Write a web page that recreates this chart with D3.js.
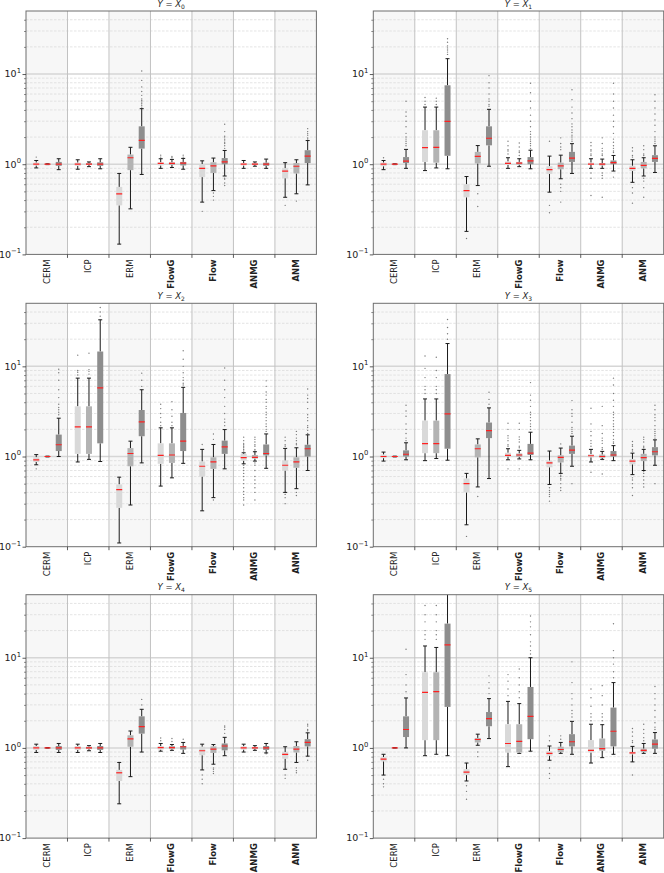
<!DOCTYPE html>
<html>
<head>
<meta charset="utf-8">
<script src="https://cdn.jsdelivr.net/npm/d3@7"></script>
<style>
body { margin: 0; background: #fff; }
text { font-family: "DejaVu Sans", sans-serif; }
</style>
</head>
<body>
<div id="chart"></div>
<script>
const categories = ["CERM", "ICP", "ERM", "FlowG", "Flow", "ANMG", "ANM"];
const boldCats = ["FlowG", "Flow", "ANMG", "ANM"];
const series = ["a", "b", "c"];
const panelIdx = ["0", "1", "2", "3", "4", "5"];
const yTicks = [0.1, 1, 10];
const yTickExp = ["\u22121", "0", "1"];

// [whisker low, q1, median, q3, whisker high] per category, 3 boxes each
const x0Stats = [
  [[0.91,0.97,1.0,1.04,1.1], [0.99,1.0,1.0,1.0,1.01], [0.87,0.96,1.0,1.06,1.15]],
  [[0.88,0.96,1.0,1.04,1.12], [0.94,0.98,1.0,1.03,1.06], [0.89,0.96,1.0,1.05,1.15]],
  [[0.13,0.35,0.47,0.56,0.79], [0.32,0.86,1.18,1.28,1.54], [0.77,1.49,1.84,2.63,4.13]],
  [[0.9,0.97,1.02,1.05,1.15], [0.92,0.98,1.02,1.05,1.13], [0.88,0.97,1.03,1.06,1.16]],
  [[0.38,0.72,0.9,1.0,1.09], [0.51,0.8,0.96,1.05,1.17], [0.74,1.0,1.06,1.17,1.42]],
  [[0.9,0.97,1.0,1.03,1.1], [0.95,0.98,1.0,1.02,1.06], [0.9,0.96,1.0,1.04,1.14]],
  [[0.43,0.7,0.84,0.9,1.04], [0.47,0.79,0.95,1.03,1.12], [0.59,1.03,1.23,1.43,1.83]]
];
const x0Out = [
  [[1.2], [], []],
  [[], [], []],
  [[], [], [4.3,4.5,4.7,4.9,5.1,5.3,5.8,6.4,7.2,8.5,10.8]],
  [[1.2,1.26], [1.18,1.22], [1.2,1.26]],
  [[0.3], [0.48,0.44,0.4], [1.5,1.6,1.7,1.75,1.85,1.9,2.0,2.05,2.3,2.77,0.7,0.68,0.62,0.58]],
  [[], [], []],
  [[0.35], [0.39], [1.9,1.95,2.1,2.2,2.3,2.48]]
];

const x1Stats = [
  [[0.87,0.95,1.0,1.04,1.1], [0.99,1.0,1.0,1.0,1.01], [0.9,1.03,1.08,1.2,1.46]],
  [[0.85,1.06,1.53,2.38,4.3], [0.91,1.04,1.54,2.38,4.3], [0.89,1.24,2.99,7.5,14.8]],
  [[0.18,0.43,0.51,0.6,0.73], [0.58,1.02,1.22,1.37,1.61], [0.95,1.62,1.94,2.63,4.06]],
  [[0.9,0.98,1.02,1.07,1.18], [0.94,0.99,1.03,1.06,1.15], [0.89,1.0,1.09,1.2,1.43]],
  [[0.49,0.78,0.87,0.95,1.23], [0.69,0.88,0.96,1.04,1.26], [0.79,1.06,1.17,1.37,1.69]],
  [[0.9,0.98,1.0,1.04,1.15], [0.9,0.97,1.0,1.03,1.14], [0.84,1.0,1.04,1.1,1.25]],
  [[0.63,0.84,0.9,0.96,1.12], [0.74,0.9,0.97,1.06,1.18], [0.81,1.06,1.16,1.26,1.6]]
];
const x1Out = [
  [[1.18], [], [1.6,1.7,1.8,1.9,2.0,2.2,2.6,3.0,3.4,3.8,5.0]],
  [[4.6,5.0,5.5], [4.6,5.0,5.4], [16.5,17.5,18.5,19.5,20.5,22.5,24.6]],
  [[0.15], [0.47,0.34], [4.4,4.6,5.0,5.3,6.0,7.0,8.0,9.6]],
  [[1.3,1.4,1.45,1.6,1.8], [1.25,1.35,1.4,1.55,1.72], [1.5,1.6,1.7,1.8,1.9,2.0,2.15,2.3,2.6,3.0,3.5,4.2,5.0,6.2,7.9]],
  [[1.8,0.35,0.29], [1.45,1.55,1.7,1.96,0.6,0.55,0.5,0.38], [1.8,1.9,2.0,2.1,2.25,2.4,2.6,2.8,3.2,3.7,4.3,5.2,6.7]],
  [[1.25,1.3,1.4,1.45,1.6,1.74,0.8,0.7,0.45], [1.25,1.3,1.4,1.5,1.7,1.96,0.8,0.75,0.7,0.43], [1.35,1.4,1.5,1.6,1.75,1.9,2.2,2.6,3.0,3.5,4.2,5.0,6.0,7.9,0.72]],
  [[1.2,1.25,1.4,1.52,0.55,0.48,0.37], [1.25,1.3,1.45,1.6,0.7,0.65,0.55,0.43], [1.7,1.8,1.9,2.0,2.3,2.7,3.1,3.6,4.2,5.0,5.9]]
];

const x2Stats = [
  [[0.81,0.87,0.92,0.98,1.05], [0.99,1.0,1.0,1.0,1.01], [1.0,1.15,1.35,1.75,2.66]],
  [[0.87,1.07,2.13,3.6,7.4], [0.93,1.07,2.13,3.6,7.4], [0.88,1.4,5.77,14.6,32.8]],
  [[0.11,0.27,0.43,0.49,0.59], [0.29,0.78,1.08,1.24,1.48], [0.85,1.68,2.42,3.28,5.5]],
  [[0.47,0.83,1.03,1.4,2.08], [0.58,0.85,1.04,1.4,2.08], [0.84,1.15,1.48,3.04,5.85]],
  [[0.25,0.6,0.78,0.88,1.2], [0.35,0.73,0.87,0.98,1.36], [0.73,1.07,1.28,1.5,1.99]],
  [[0.83,0.9,0.97,1.07,1.1], [0.89,0.95,0.98,1.04,1.13], [0.74,1.03,1.08,1.36,1.78]],
  [[0.4,0.7,0.8,0.9,1.23], [0.44,0.75,0.87,0.98,1.25], [0.7,1.0,1.22,1.35,1.74]]
];
const x2Out = [
  [[0.73], [], [2.9,3.1,3.3,3.5,3.8,4.5,5.5,7.0,8.5,9.3]],
  [[8.0,8.6,9.0,13.3], [8.2,8.8,9.2,14.0], [36,40,45]],
  [[], [], [6.0,7.0,8.4]],
  [[2.2,2.4,2.7,3.0,3.4,3.8], [2.2,2.4,2.8,3.3,4.06], [6.2,6.5,7.0,7.5,8.5,10,12,14.9]],
  [[1.36], [1.55,1.78,0.33], [2.2,2.4,2.6,3.0,3.6,4.5,5.5,7.0,9.6]],
  [[1.15,1.2,1.25,1.3,1.35,1.4,1.5,1.64,0.8,0.75,0.7,0.65,0.6,0.55,0.5,0.45,0.41,0.38,0.35,0.33,0.29], [1.15,1.2,1.3,1.35,1.45,1.55,1.64,0.85,0.8,0.7,0.6,0.55,0.5,0.45,0.4,0.33], [1.9,2.0,2.15,2.3,2.5,2.7,2.9,3.1,3.4,3.6,4.0,4.3,4.8,5.2,6.0,6.9]],
  [[1.3,1.35,1.5,1.64,0.38,0.35,0.3], [1.35,1.4,1.5,1.6,1.75,1.9,0.4,0.37], [1.8,1.95,2.1,2.2,2.5,2.7,2.9,3.4,4.0,4.4,4.8,5.6]]
];

const x3Stats = [
  [[0.89,0.96,1.0,1.05,1.12], [0.99,1.0,1.0,1.0,1.01], [0.92,1.0,1.06,1.17,1.42]],
  [[0.9,1.09,1.39,2.5,4.35], [0.95,1.09,1.39,2.5,4.35], [0.91,1.22,2.97,8.2,17.9]],
  [[0.175,0.4,0.5,0.57,0.65], [0.46,0.98,1.22,1.36,1.57], [0.57,1.6,1.94,2.38,3.46]],
  [[0.92,1.0,1.03,1.1,1.22], [0.94,0.99,1.04,1.08,1.17], [0.92,1.04,1.09,1.38,1.86]],
  [[0.49,0.76,0.85,0.9,1.15], [0.65,0.86,0.98,1.03,1.24], [0.78,1.07,1.18,1.32,1.68]],
  [[0.87,0.98,1.02,1.06,1.2], [0.93,0.97,1.0,1.05,1.14], [0.9,1.0,1.04,1.15,1.32]],
  [[0.63,0.82,0.89,0.94,1.09], [0.7,0.89,0.97,1.07,1.2], [0.8,1.03,1.13,1.27,1.53]]
];
const x3Out = [
  [[], [], [1.5,1.6,1.8,2.0,2.3,2.8,3.2,3.7]],
  [[5,5.5,6,7.5,9.5,13], [5,5.5,6,7.5,9,12.6], [20,23,27,33]],
  [[0.13], [0.36], [3.8,4.3,5.15]],
  [[1.3,1.35,1.5,1.6,1.7,2.0,2.34,0.73], [1.25,1.3,1.45,1.55,1.65,2.0,2.34,0.73], [2.0,2.15,2.3,2.5,2.7,2.9,3.1,3.6,4.2,4.8,6.6]],
  [[0.45,0.42,0.4,0.38,0.36,0.32], [1.38,0.62,0.6,0.57,0.55,0.5,0.45,0.42], [1.8,1.9,2.0,2.1,2.4,2.8,3.0,3.3,4.17,0.5]],
  [[1.3,1.4,1.5,1.7,1.9,2.3,3.43,0.67], [1.2,1.25,1.4,1.5,1.6,1.8,2.2,3.6,0.64], [1.4,1.45,1.55,1.7,1.85,2.0,2.15,2.3,2.5,2.7,2.9,3.1,3.6,4.2,5.0,6.2,7.4]],
  [[1.15,1.2,1.3,1.35,1.47,0.58,0.55,0.5,0.45,0.37], [1.25,1.3,1.45,1.55,1.64,0.68,0.65,0.6,0.55,0.5,0.46], [1.6,1.7,1.8,1.9,2.0,2.2,2.5,2.7,2.9,3.3,3.7,0.5]]
];

const x4Stats = [
  [[0.89,0.95,1.0,1.05,1.1], [0.99,1.0,1.0,1.0,1.01], [0.89,0.95,1.0,1.05,1.12]],
  [[0.89,0.95,1.0,1.05,1.1], [0.93,0.97,1.0,1.03,1.06], [0.89,0.95,1.0,1.05,1.12]],
  [[0.24,0.43,0.53,0.57,0.69], [0.48,1.03,1.26,1.38,1.54], [0.9,1.44,1.72,2.24,2.68]],
  [[0.92,0.96,1.01,1.05,1.12], [0.94,0.97,1.01,1.05,1.09], [0.87,0.96,1.03,1.05,1.15]],
  [[0.57,0.83,0.93,1.03,1.1], [0.66,0.88,0.97,1.04,1.09], [0.82,0.94,1.05,1.12,1.31]],
  [[0.9,0.96,1.0,1.04,1.1], [0.94,0.98,1.0,1.02,1.06], [0.88,0.95,1.0,1.05,1.12]],
  [[0.58,0.76,0.85,0.9,1.03], [0.69,0.89,0.97,1.05,1.17], [0.81,1.04,1.15,1.25,1.47]]
];
const x4Out = [
  [[], [], []],
  [[], [], []],
  [[], [], [3.0,3.45]],
  [[1.2,1.29], [1.18,1.27], [1.25]],
  [[0.5,0.45,0.4], [0.6,0.58,0.55,0.52], [1.45,1.6,1.7,1.75]],
  [[], [], [0.86]],
  [[0.5,0.46], [0.6,0.56,0.53], [1.55,1.6,1.75,1.83,0.73]]
];

const x5Stats = [
  [[0.5,0.71,0.75,0.79,0.85], [0.99,1.0,1.0,1.0,1.01], [1.0,1.32,1.6,2.24,3.58]],
  [[0.82,1.22,4.13,6.9,13.5], [0.85,1.22,4.2,6.9,13], [0.82,2.85,13.9,23.9,80]],
  [[0.43,0.5,0.54,0.58,0.68], [1.07,1.15,1.24,1.29,1.42], [1.27,1.74,2.11,2.5,3.52]],
  [[0.62,0.89,1.12,1.83,3.28], [0.87,0.89,1.18,1.83,3.1], [0.92,1.25,2.24,4.74,10]],
  [[0.73,0.82,0.87,0.92,1.05], [0.87,0.9,0.96,1.03,1.15], [0.85,1.04,1.17,1.42,1.97]],
  [[0.68,0.89,0.94,1.22,1.83], [0.78,0.93,0.98,1.27,1.81], [0.85,1.04,1.53,2.8,5.3]],
  [[0.7,0.85,0.88,0.9,1.04], [0.87,0.9,0.94,0.98,1.12], [0.87,0.98,1.1,1.24,1.48]]
];
const x5Out = [
  [[0.45,0.4,0.37], [], [4.2,5.0,6.5,12.4]],
  [[16,18,20,25,30,38], [16,18,20,25,30,38], []],
  [[0.38,0.33,0.27], [0.9,0.8], [4.0,4.6,5.3,6.3]],
  [[3.8,4.5,5.5,6.5], [3.6,4.2,5,6,7.5], [11,12,13.5,15,18,22,25,29]],
  [[1.2,1.36,0.6,0.52,0.46], [1.25,1.36], [2.2,2.4,2.6,3.0,3.5,4.0,5.3,9.0]],
  [[2.0,2.2,2.4,2.9,3.6,4.5], [2.0,2.2,2.4,3.0,3.8,4.9], [6.0,7,8.5,10,12,23.8]],
  [[1.15,1.2,1.35,1.5,1.64,0.5], [1.2,1.3,1.45,1.6,1.83], [1.6,1.7,1.9,2.2,2.6,3.0,3.5,4.0,4.8]]
];

const allStats = [x0Stats, x1Stats, x2Stats, x3Stats, x4Stats, x5Stats];
const allOut = [x0Out, x1Out, x2Out, x3Out, x4Out, x5Out];

const width = 664, height = 873;
const panelLeft = [26, 373.3];
const panelTop = [11, 303.3, 594.7];
const pw = 290.4, ph = 243.4;
const boxColors = ["#d9d9d9", "#b3b3b3", "#8e8e8e"];
const minorTicks = [0.2,0.3,0.4,0.5,0.6,0.7,0.8,0.9,2,3,4,5,6,7,8,9,20,30,40];

const svg = d3.select("#chart").append("svg")
      .attr("width", width)
      .attr("height", height);

allStats.forEach((stats, pi) => {
    const left = panelLeft[pi % 2], top = panelTop[Math.floor(pi / 2)];
    const g = svg.append("g").attr("transform", `translate(${left},${top})`);

    const x = d3.scaleBand().domain(categories).range([0, pw]);
    const off = d3.scalePoint().domain(series).range([-10.5, 12]);
    const y = d3.scaleLog().domain([0.1, 50]).range([ph, 0]);

    const clipId = `clip${pi}`;
    g.append("clipPath").attr("id", clipId)
        .append("rect").attr("width", pw).attr("height", ph);

    // shaded columns
    g.selectAll(".band")
        .data(categories.filter((c, i) => i % 2 === 0))
        .join("rect")
        .attr("x", d => x(d))
        .attr("y", 0)
        .attr("width", x.bandwidth())
        .attr("height", ph)
        .attr("fill", "#f7f7f7");

    // grid
    g.selectAll(".minor")
        .data(minorTicks)
        .join("line")
        .attr("x1", 0).attr("x2", pw)
        .attr("y1", d => y(d)).attr("y2", d => y(d))
        .attr("stroke", "#d9d9d9")
        .attr("stroke-width", 0.7)
        .attr("stroke-dasharray", "2.5,1.5");

    g.selectAll(".major")
        .data([1, 10])
        .join("line")
        .attr("x1", 0).attr("x2", pw)
        .attr("y1", d => y(d)).attr("y2", d => y(d))
        .attr("stroke", "#d6d6d6")
        .attr("stroke-width", 1.5);

    g.selectAll(".sep")
        .data(categories.slice(1))
        .join("line")
        .attr("x1", d => x(d)).attr("x2", d => x(d))
        .attr("y1", 0).attr("y2", ph)
        .attr("stroke", "#c2c2c2")
        .attr("stroke-width", 1);

    // boxes
    const plot = g.append("g").attr("clip-path", `url(#${clipId})`);
    categories.forEach((cat, ci) => {
        series.forEach((s, si) => {
            const [lo, q1, med, q3, hi] = stats[ci][si];
            const cx = x(cat) + x.bandwidth() / 2 + off(s);
            const bg = plot.append("g");

            bg.selectAll("circle")
                .data(allOut[pi][ci][si])
                .join("circle")
                .attr("cx", cx)
                .attr("cy", d => y(d))
                .attr("r", 0.7)
                .attr("fill", "#7a7a7a");

            bg.append("line")
                .attr("x1", cx).attr("x2", cx)
                .attr("y1", y(lo)).attr("y2", y(q1))
                .attr("stroke", "#1a1a1a").attr("stroke-width", 1);
            bg.append("line")
                .attr("x1", cx).attr("x2", cx)
                .attr("y1", y(q3)).attr("y2", y(hi))
                .attr("stroke", "#1a1a1a").attr("stroke-width", 1);
            [lo, hi].forEach(v => {
                bg.append("line")
                    .attr("x1", cx - 2).attr("x2", cx + 2)
                    .attr("y1", y(v)).attr("y2", y(v))
                    .attr("stroke", "#1a1a1a").attr("stroke-width", 1);
            });

            bg.append("rect")
                .attr("x", cx - 3)
                .attr("width", 6)
                .attr("y", y(q3))
                .attr("height", Math.max(0.5, y(q1) - y(q3)))
                .attr("fill", boxColors[si]);

            bg.append("line")
                .attr("x1", cx - 3).attr("x2", cx + 3)
                .attr("y1", y(med)).attr("y2", y(med))
                .attr("stroke", "#ff2020").attr("stroke-width", 1.2);
        });
    });

    // frame
    g.append("rect")
        .attr("width", pw).attr("height", ph)
        .attr("fill", "none")
        .attr("stroke", "#6e6e6e")
        .attr("stroke-width", 1);

    // y axis
    g.append("g")
        .call(d3.axisLeft(y).tickValues(minorTicks).tickSize(2).tickFormat(""))
        .call(a => a.select(".domain").remove())
        .call(a => a.selectAll("line").attr("stroke", "#444").attr("stroke-width", 0.6));
    g.append("g")
        .call(d3.axisLeft(y).tickValues(yTicks).tickSize(3.5).tickFormat(""))
        .call(a => a.select(".domain").remove())
        .call(a => a.selectAll("line").attr("stroke", "#333").attr("stroke-width", 0.8));

    const yl = g.selectAll(".ylab")
        .data(yTicks)
        .join("text")
        .attr("x", -5)
        .attr("y", d => y(d) + 3.4)
        .attr("text-anchor", "end")
        .attr("font-size", 9.5)
        .attr("fill", "#222");
    yl.append("tspan").text("10");
    yl.append("tspan")
        .attr("dy", -4.5)
        .attr("font-size", 6.8)
        .text((d, i) => yTickExp[i]);

    // x axis
    g.selectAll(".xtick")
        .data(categories.slice(1))
        .join("line")
        .attr("x1", d => x(d)).attr("x2", d => x(d))
        .attr("y1", ph).attr("y2", ph + 3.5)
        .attr("stroke", "#333").attr("stroke-width", 0.8);

    g.selectAll(".xlab")
        .data(categories)
        .join("text")
        .attr("transform", d => `translate(${x(d) + x.bandwidth() / 2 + 3},${ph + 5}) rotate(-90)`)
        .attr("text-anchor", "end")
        .attr("font-size", 8.5)
        .attr("font-weight", d => boldCats.includes(d) ? "bold" : "normal")
        .attr("fill", "#222")
        .text(d => d);

    // title
    const t = g.append("text")
        .attr("x", pw / 2)
        .attr("y", -4.5)
        .attr("text-anchor", "middle")
        .attr("font-size", 8.5)
        .attr("fill", "#222");
    t.append("tspan").attr("font-style", "italic").text("Y");
    t.append("tspan").text(" = ");
    t.append("tspan").attr("font-style", "italic").text("X");
    t.append("tspan").attr("dy", 2).attr("font-size", 6).text(panelIdx[pi]);
});
</script>
</body>
</html>
